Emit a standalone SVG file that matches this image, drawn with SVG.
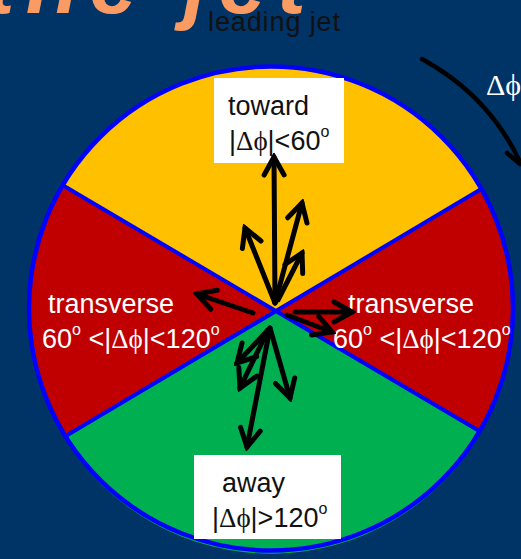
<svg xmlns="http://www.w3.org/2000/svg" width="521" height="559" viewBox="0 0 521 559">
  <style>
    .lbl { font-family: "Liberation Sans", "Open Sans", sans-serif; font-size: 27px; }
    .sym { font-family: "Liberation Serif", "DejaVu Serif", serif; }
    .dark { fill: #111; }
    .light { fill: #fff; }
    .arr { stroke: #000; stroke-width: 5; fill: none; stroke-linecap: round; marker-end: url(#head); }
    .box { fill: #fff; }
  </style>
  <defs>
    <marker id="head" markerUnits="userSpaceOnUse" viewBox="-24 -14 28 28" refX="0" refY="0" markerWidth="28" markerHeight="28" orient="auto">
      <path d="M-18,-10 L0,0 L-18,10" fill="none" stroke="#000" stroke-width="5" stroke-linejoin="miter" stroke-linecap="round"/>
    </marker>
  </defs>

  <!-- background -->
  <rect x="0" y="0" width="521" height="559" fill="#003366"/>

  <!-- title fragment -->
  <text x="-14" y="13" font-family="Liberation Sans, sans-serif" font-weight="bold" font-style="italic" font-size="86" fill="#FA9B64" textLength="320">the jet</text>
  <text x="208" y="31" font-family="Liberation Sans, sans-serif" font-size="27" fill="#111" textLength="132">leading jet</text>

  <!-- rotation direction -->
  <g id="phi-arrow">
    <path d="M422,59 Q488,95 519,160" fill="none" stroke="#000" stroke-width="4.5" stroke-linecap="round"/>
    <path d="M507,153 L520,164" fill="none" stroke="#000" stroke-width="4.5" stroke-linecap="round"/>
    <text x="486" y="95" class="sym" font-size="30" fill="#fff">Δϕ</text>
  </g>

  <!-- azimuthal regions -->
  <g id="regions">
    <circle cx="271" cy="308.5" r="242" fill="#C00000"/>
    <path id="toward-region" d="M274,310 L64,186 A242,242 0 0 1 483,188 Z" fill="#FFC000"/>
    <path id="away-region" d="M274,310 L481,432 A242,242 0 0 1 64,437 Z" fill="#00B050"/>
    <path d="M64,186 L481,432 M483,188 L64,437" stroke="#0000FF" stroke-width="4" fill="none"/>
    <circle cx="271" cy="308.5" r="242" fill="none" stroke="#0000FF" stroke-width="4.5"/>
  </g>

  <!-- region labels -->
  <g id="toward">
    <rect class="box" x="214" y="78" width="130" height="85"/>
    <text class="lbl dark" x="228" y="115">toward</text>
    <text class="lbl dark" x="229" y="150">|<tspan class="sym">Δϕ</tspan>|&lt;60<tspan font-size="16" dy="-13">o</tspan></text>
  </g>
  <g id="transverse-left">
    <text class="lbl light" x="48" y="313">transverse</text>
    <text class="lbl light" x="42" y="348">60<tspan font-size="16" dy="-13">o</tspan><tspan dy="13"> &lt;|</tspan><tspan class="sym">Δϕ</tspan>|&lt;120<tspan font-size="16" dy="-13">o</tspan></text>
  </g>
  <g id="transverse-right">
    <text class="lbl light" x="348" y="313">transverse</text>
    <text class="lbl light" x="333" y="348">60<tspan font-size="16" dy="-13">o</tspan><tspan dy="13"> &lt;|</tspan><tspan class="sym">Δϕ</tspan>|&lt;120<tspan font-size="16" dy="-13">o</tspan></text>
  </g>
  <g id="away">
    <rect class="box" x="194" y="455" width="147" height="84"/>
    <text class="lbl dark" x="222" y="492">away</text>
    <text class="lbl dark" x="212" y="527">|<tspan class="sym">Δϕ</tspan>|&gt;120<tspan font-size="16" dy="-13">o</tspan></text>
  </g>

  <!-- particle momenta -->
  <g id="connectors">
    <path class="arr" d="M275,303 L274,157"/>
    <path class="arr" d="M275,303 L245,228"/>
    <path class="arr" d="M275,303 L302,203"/>
    <path class="arr" d="M278,300 L302,253"/>
    <path class="arr" d="M253,313 L197,294"/>
    <path class="arr" d="M295,312 L352,312"/>
    <path class="arr" d="M287,315 L332,332"/>
    <path class="arr" d="M270,328 L247,447"/>
    <path class="arr" d="M270,328 L290,398"/>
    <path class="arr" d="M268,330 L237,363"/>
    <path class="arr" d="M268,330 L240,388"/>
  </g>
</svg>
